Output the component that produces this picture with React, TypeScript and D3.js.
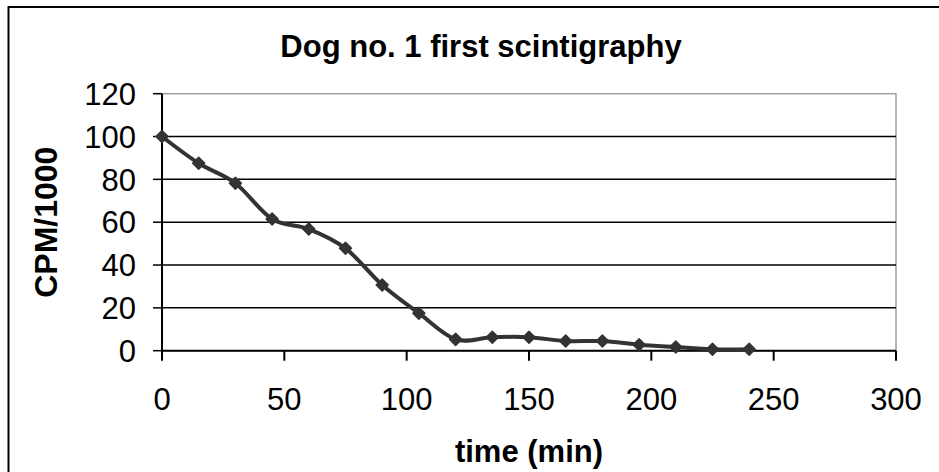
import React from "react";
import * as d3 from "d3";

const timeMin = [0, 15, 30, 45, 60, 75, 90, 105, 120, 135, 150, 165, 180, 195, 210, 225, 240];
const cpm = [100, 87.5, 78.2, 61.5, 56.8, 47.8, 30.7, 17.5, 5.3, 6.3, 6.3, 4.5, 4.5, 2.8, 1.7, 0.7, 0.7];
const xTicks = [0, 50, 100, 150, 200, 250, 300];
const yTicks = [0, 20, 40, 60, 80, 100, 120];

const W = 939;
const H = 472;
const M = { left: 162, right: 896, top: 93.7, bottom: 350.7 };
const FONT = "'Liberation Sans', Arial, sans-serif";

export default function App() {
  const x = d3.scaleLinear().domain([0, 300]).range([M.left, M.right]);
  const y = d3.scaleLinear().domain([0, 120]).range([M.bottom, M.top]);
  const pts: [number, number][] = timeMin.map((t, i) => [x(t), y(cpm[i])]);
  const line = d3.line().curve(d3.curveCatmullRom.alpha(0))(pts) || "";
  const diamond = (cx: number, cy: number, r: number) =>
    `M${cx},${cy - r}L${cx + r},${cy}L${cx},${cy + r}L${cx - r},${cy}Z`;

  return (
    <svg
      width={W}
      height={H}
      style={{ position: "absolute", left: 0, top: 0, background: "#fff" }}
      fontFamily={FONT}
    >
      <rect x={0} y={0} width={W} height={H} fill="#fff" />
      {/* chart frame */}
      <rect x={8.5} y={7} width={W + 20} height={H + 20} fill="none" stroke="#000" strokeWidth={2} />

      {/* plot area border */}
      <rect
        x={M.left}
        y={M.top}
        width={M.right - M.left}
        height={M.bottom - M.top}
        fill="none"
        stroke="#a0a0a0"
        strokeWidth={1.5}
      />

      {/* horizontal gridlines */}
      {yTicks
        .filter((v) => v > 0 && v < 120)
        .map((v) => (
          <line key={v} x1={M.left} x2={M.right} y1={y(v)} y2={y(v)} stroke="#000" strokeWidth={1.5} />
        ))}

      {/* y axis */}
      <line x1={M.left} x2={M.left} y1={M.top} y2={M.bottom} stroke="#000" strokeWidth={2} />
      {yTicks.map((v) => (
        <g key={v}>
          <line x1={M.left - 9} x2={M.left} y1={y(v)} y2={y(v)} stroke="#000" strokeWidth={1.5} />
          <text x={136} y={y(v)} dy="0.36em" textAnchor="end" fontSize={31} fill="#000">
            {v}
          </text>
        </g>
      ))}

      {/* x axis */}
      <line x1={M.left} x2={M.right} y1={M.bottom} y2={M.bottom} stroke="#000" strokeWidth={2} />
      {xTicks.map((v) => (
        <g key={v}>
          <line x1={x(v)} x2={x(v)} y1={M.bottom} y2={M.bottom + 10} stroke="#000" strokeWidth={2} />
          <text x={x(v)} y={410} textAnchor="middle" fontSize={31} fill="#000">
            {v}
          </text>
        </g>
      ))}

      {/* data series */}
      <path d={line} fill="none" stroke="#333" strokeWidth={4} strokeLinejoin="round" />
      {pts.map(([cx, cy], i) => (
        <path key={i} d={diamond(cx, cy, 6)} fill="#333" stroke="#333" strokeWidth={1.5} strokeLinejoin="round" />
      ))}

      {/* titles */}
      <text x={481} y={57} textAnchor="middle" fontSize={31} fontWeight="bold" fill="#000">
        Dog no. 1 first scintigraphy
      </text>
      <text
        transform={`translate(57,${(M.top + M.bottom) / 2}) rotate(-90)`}
        textAnchor="middle"
        fontSize={32}
        fontWeight="bold"
        fill="#000"
      >
        CPM/1000
      </text>
      <text x={(M.left + M.right) / 2} y={462} textAnchor="middle" fontSize={31} fontWeight="bold" fill="#000">
        time (min)
      </text>
    </svg>
  );
}
